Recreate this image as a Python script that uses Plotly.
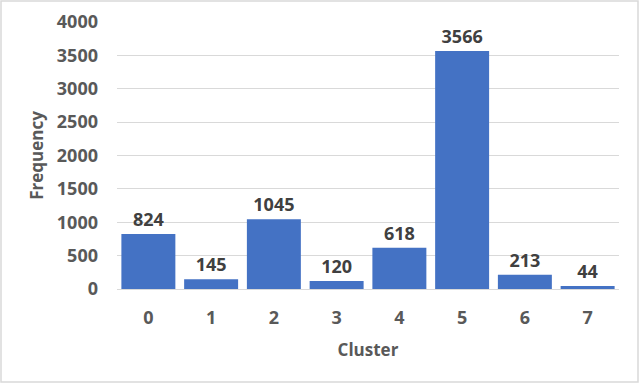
import plotly.graph_objects as go

clusters = ["0", "1", "2", "3", "4", "5", "6", "7"]
frequency = [824, 145, 1045, 120, 618, 3566, 213, 44]
y_ticks = [0, 500, 1000, 1500, 2000, 2500, 3000, 3500, 4000]

W, H = 640, 384
ml, mr, mt, mb = 117, 21, 22, 95

fig = go.Figure(go.Bar(
    x=clusters, y=frequency,
    marker=dict(color="#4472C4", line=dict(width=0)),
    text=[str(v) for v in frequency],
    textposition="outside",
    textfont=dict(family="Open Sans", size=18, color="#404040", weight="bold"),
    cliponaxis=False,
))

pw = W - ml - mr
ph = H - mt - mb
fig.add_shape(type="rect", xref="paper", yref="paper",
              x0=(1 - ml) / pw, x1=(W - 2 - ml) / pw,
              y0=-(H - 2 - mt - ph) / ph, y1=(mt - 1) / ph + 1,
              line=dict(color="#d9d9d9", width=1.5), layer="below")

fig.update_layout(
    width=W, height=H,
    margin=dict(l=ml, r=mr, t=mt, b=mb, autoexpand=False),
    paper_bgcolor="white", plot_bgcolor="white",
    bargap=0.14,
    showlegend=False,
    font=dict(family="Open Sans", color="#595959"),
    xaxis=dict(
        showgrid=False, showline=True, linecolor="#d9d9d9", linewidth=1,
        ticks="", ticklabelstandoff=12,
        tickfont=dict(size=18, weight="bold", color="#595959"),
        title=dict(text="Cluster", font=dict(size=17, weight="bold", color="#595959"), standoff=16),
    ),
    yaxis=dict(
        range=[0, 4000], tickvals=y_ticks, showgrid=True, gridcolor="#d9d9d9", gridwidth=1,
        zeroline=False, showline=False, ticks="", ticklabelstandoff=18,
        tickfont=dict(size=18, weight="bold", color="#595959"),
        title=dict(text="Frequency", font=dict(size=17, weight="bold", color="#595959"), standoff=8),
    ),
)

fig.write_html("out.html", config={"displayModeBar": False},
               post_script="document.body.style.margin='0';")
